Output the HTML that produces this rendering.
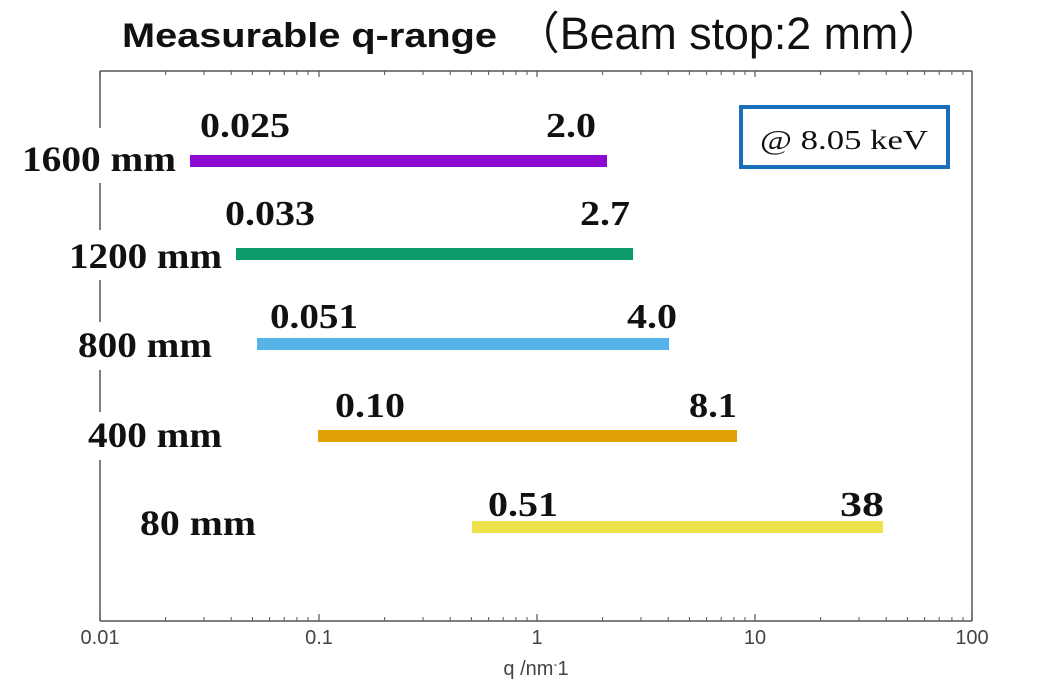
<!DOCTYPE html>
<html><head><meta charset="utf-8"><style>
body{margin:0;background:#fff}
svg{display:block}
.n{font-family:"Liberation Serif",serif;font-weight:bold;font-size:35px;fill:#111}
.r{font-family:"Liberation Serif",serif;font-weight:bold;font-size:36px;fill:#111}
.t{font-family:"Liberation Sans",sans-serif;font-size:20px;fill:#444}
</style></head><body>
<svg width="1043" height="692" viewBox="0 0 1043 692" xmlns="http://www.w3.org/2000/svg">
<text x="122" y="47" font-family="Liberation Sans,sans-serif" font-weight="bold" font-size="34" fill="#111" textLength="375" lengthAdjust="spacingAndGlyphs">Measurable q-range</text>
<text x="515" y="49" font-family="Liberation Sans,'Noto Sans CJK JP',sans-serif" font-size="45" fill="#111" textLength="428" lengthAdjust="spacingAndGlyphs">（Beam stop:2 mm）</text>
<g stroke="#555" stroke-width="1.5" fill="none">
<line x1="100" y1="71" x2="972" y2="71"/>
<line x1="972" y1="71" x2="972" y2="621"/>
<line x1="100" y1="621" x2="972" y2="621"/>
<line x1="100" y1="71" x2="100" y2="621"/>
</g>
<g fill="#fff">
<rect x="20" y="128" width="160" height="55"/>
<rect x="65" y="230" width="160" height="50"/>
<rect x="72" y="322" width="145" height="48"/>
<rect x="85" y="412" width="140" height="48"/>
</g>
<g stroke="#555" stroke-width="1.2">
<path d="M100 621v-7M319 621v-7M537 621v-7M755 621v-7M972 621v-7"/>
<path d="M100 71v6M319 71v6M537 71v6M755 71v6"/>
</g>
<g stroke="#555" stroke-width="1" id="minor"></g>
<rect x="190" y="155" width="417" height="12" fill="#8e0ad0"/>
<rect x="236" y="248" width="397" height="12" fill="#0a9a6c"/>
<rect x="257" y="338" width="412" height="12" fill="#56b3e9"/>
<rect x="318" y="430" width="419" height="12" fill="#e3a007"/>
<rect x="472" y="521" width="411" height="12" fill="#efe24a"/>
<text class="r" x="22" y="171" textLength="154" lengthAdjust="spacingAndGlyphs">1600 mm</text>
<text class="r" x="69" y="268" textLength="153" lengthAdjust="spacingAndGlyphs">1200 mm</text>
<text class="r" x="78" y="357" textLength="134" lengthAdjust="spacingAndGlyphs">800 mm</text>
<text class="r" x="88" y="447" textLength="134" lengthAdjust="spacingAndGlyphs">400 mm</text>
<text class="r" x="140" y="535" textLength="116" lengthAdjust="spacingAndGlyphs">80 mm</text>
<text class="n" x="200" y="137" textLength="90" lengthAdjust="spacingAndGlyphs">0.025</text>
<text class="n" x="546" y="137" textLength="50" lengthAdjust="spacingAndGlyphs">2.0</text>
<text class="n" x="225" y="225" textLength="90" lengthAdjust="spacingAndGlyphs">0.033</text>
<text class="n" x="580" y="225" textLength="50" lengthAdjust="spacingAndGlyphs">2.7</text>
<text class="n" x="270" y="328" textLength="88" lengthAdjust="spacingAndGlyphs">0.051</text>
<text class="n" x="627" y="328" textLength="50" lengthAdjust="spacingAndGlyphs">4.0</text>
<text class="n" x="335" y="417" textLength="70" lengthAdjust="spacingAndGlyphs">0.10</text>
<text class="n" x="689" y="417" textLength="48" lengthAdjust="spacingAndGlyphs">8.1</text>
<text class="n" x="488" y="516" textLength="70" lengthAdjust="spacingAndGlyphs">0.51</text>
<text class="n" x="840" y="516" textLength="44" lengthAdjust="spacingAndGlyphs">38</text>
<rect x="741" y="107" width="207" height="60" fill="#fff" stroke="#1a6fba" stroke-width="4"/>
<text x="760" y="149" font-family="Liberation Serif,serif" font-size="27" fill="#111" textLength="168" lengthAdjust="spacingAndGlyphs">@ 8.05 keV</text>
<text class="t" x="100" y="644" text-anchor="middle">0.01</text>
<text class="t" x="319" y="644" text-anchor="middle">0.1</text>
<text class="t" x="537" y="644" text-anchor="middle">1</text>
<text class="t" x="755" y="644" text-anchor="middle">10</text>
<text class="t" x="972" y="644" text-anchor="middle">100</text>
<text class="t" x="536" y="675" text-anchor="middle">q /nm<tspan font-size="12" dy="-7">-</tspan><tspan dy="7">1</tspan></text>
<script>
var g=document.getElementById('minor'),s='';
var x0=[100,319,537,755];
for(var d=0;d<4;d++)for(var k=2;k<10;k++){var x=x0[d]+218*Math.log10(k);s+='M'+x.toFixed(1)+' 621v-4M'+x.toFixed(1)+' 71v4';}
var p=document.createElementNS('http://www.w3.org/2000/svg','path');p.setAttribute('d',s);g.appendChild(p);
</script>
</svg>
</body></html>
